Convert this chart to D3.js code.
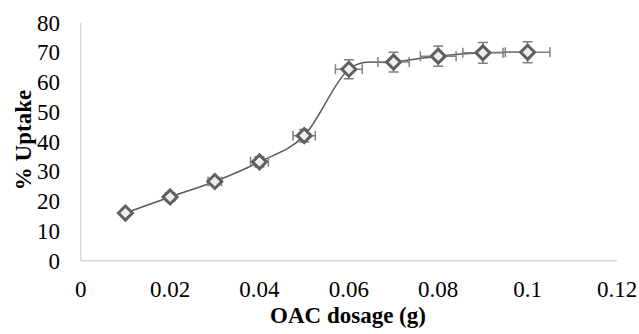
<!DOCTYPE html>
<html>
<head>
<meta charset="utf-8">
<script src="https://cdn.jsdelivr.net/npm/d3@7"></script>
<style>
    html, body { margin: 0; padding: 0; background: #fff; }
    svg { display: block; }
    .tick-label { font-family: "Times New Roman", "Liberation Serif", "DejaVu Serif", serif; font-size: 23px; fill: #000; }
    .axis-title { font-family: "Times New Roman", "Liberation Serif", "DejaVu Serif", serif; font-size: 23px; font-weight: bold; fill: #000; }
</style>
</head>
<body>
<svg id="chart" width="639" height="334"></svg>
<script>
// dosage (g) vs uptake (%)
var dosage = [0.01, 0.02, 0.03, 0.04, 0.05, 0.06, 0.07, 0.08, 0.09, 0.1];
var uptake = [16.0, 21.4, 26.6, 33.2, 42.0, 64.3, 66.7, 68.7, 69.8, 70.0];
var dosageErr = [0.0005, 0.001, 0.0015, 0.002, 0.0025, 0.003, 0.0035, 0.004, 0.0045, 0.005];
var uptakeErr = [0.8, 1.1, 1.3, 1.7, 2.1, 3.2, 3.3, 3.4, 3.5, 3.5];
var xTicks = [0, 0.02, 0.04, 0.06, 0.08, 0.1, 0.12];
var yTicks = [0, 10, 20, 30, 40, 50, 60, 70, 80];

var svg = d3.select('#chart');

var x = d3.scaleLinear().domain([0, 0.12]).range([80.7, 617]);
var y = d3.scaleLinear().domain([0, 80]).range([260.7, 22.5]);

var points = dosage.map(function (d, i) {
    return { x: d, y: uptake[i], ex: dosageErr[i], ey: uptakeErr[i] };
});

// axes lines
svg.append('line')
    .attr('x1', x(0)).attr('x2', x(0))
    .attr('y1', y(80)).attr('y2', y(0))
    .style('stroke', '#d9d9d9').style('stroke-width', 1.5);
svg.append('line')
    .attr('x1', x(0)).attr('x2', x(0.12))
    .attr('y1', y(0)).attr('y2', y(0))
    .style('stroke', '#d9d9d9').style('stroke-width', 1.5);

svg.selectAll('.ytick')
    .data(yTicks)
    .enter().append('text')
    .attr('class', 'tick-label ytick')
    .attr('x', 60)
    .attr('y', function (d) { return y(d) + 8; })
    .attr('text-anchor', 'end')
    .text(function (d) { return d; });

svg.selectAll('.xtick')
    .data(xTicks)
    .enter().append('text')
    .attr('class', 'tick-label xtick')
    .attr('x', function (d) { return x(d); })
    .attr('y', 297)
    .attr('text-anchor', 'middle')
    .text(function (d) { return d; });

svg.append('text')
    .attr('class', 'axis-title')
    .attr('x', 348)
    .attr('y', 323)
    .attr('text-anchor', 'middle')
    .text('OAC dosage (g)');

svg.append('text')
    .attr('class', 'axis-title')
    .attr('transform', 'translate(31,140) rotate(-90)')
    .attr('text-anchor', 'middle')
    .text('% Uptake');

// smoothed series line
var line = d3.line()
    .x(function (d) { return x(d.x); })
    .y(function (d) { return y(d.y); })
    .curve(d3.curveCardinal.tension(0));

svg.append('path')
    .datum(points)
    .attr('d', line)
    .style('fill', 'none')
    .style('stroke', '#595959')
    .style('stroke-width', 1.5);

// error bars
var cap = 5;
var err = svg.append('g').attr('class', 'errors')
    .style('stroke', '#808080').style('stroke-width', 1.5).style('fill', 'none');

points.forEach(function (p) {
    var cx = x(p.x), cy = y(p.y);
    var x0 = x(p.x - p.ex), x1 = x(p.x + p.ex);
    var y0 = y(p.y - p.ey), y1 = y(p.y + p.ey);
    err.append('path')
        .attr('d', 'M' + x0 + ',' + cy + 'H' + x1 +
            'M' + x0 + ',' + (cy - cap) + 'V' + (cy + cap) +
            'M' + x1 + ',' + (cy - cap) + 'V' + (cy + cap));
    err.append('path')
        .attr('d', 'M' + cx + ',' + y0 + 'V' + y1 +
            'M' + (cx - cap) + ',' + y0 + 'H' + (cx + cap) +
            'M' + (cx - cap) + ',' + y1 + 'H' + (cx + cap));
});

// diamond markers
var r = 7;
svg.selectAll('.marker')
    .data(points)
    .enter().append('path')
    .attr('class', 'marker')
    .attr('d', function (d) {
        var cx = x(d.x), cy = y(d.y);
        return 'M' + cx + ',' + (cy - r) + 'L' + (cx + r) + ',' + cy +
            'L' + cx + ',' + (cy + r) + 'L' + (cx - r) + ',' + cy + 'Z';
    })
    .style('fill', '#eeeeee')
    .style('stroke', '#606060')
    .style('stroke-width', 3);
</script>
</body>
</html>
